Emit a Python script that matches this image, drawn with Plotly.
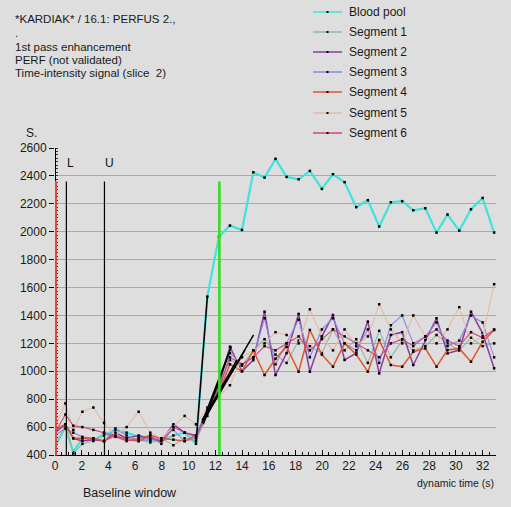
import plotly.graph_objects as go

# Acquisition times (s)
t = [0.0, 0.78, 1.37, 2.05, 2.87, 3.67, 4.52, 5.36, 6.26, 7.13, 7.96, 8.86, 9.70,
     10.55, 11.40, 12.27, 13.09, 13.99, 14.84, 15.68, 16.50, 17.33, 18.23, 19.07,
     19.97, 20.80, 21.67, 22.54, 23.41, 24.26, 25.13, 25.98, 26.81, 27.71, 28.55,
     29.37, 30.25, 31.13, 32.00, 32.86]

blood_pool = [460, 600, 420, 520, 510, 540, 580, 560, 530, 500, 500, 540, 560, 480,
              1535, 1965, 2044, 2013, 2426, 2388, 2522, 2393, 2376, 2436, 2307, 2412,
              2355, 2176, 2226, 2037, 2211, 2219, 2154, 2168, 1994, 2123, 2008, 2161,
              2242, 1994]
segment_1 = [470, 610, 410, 480, 500, 560, 540, 520, 510, 490, 520, 470, 520, 500,
             700, 900, 1080, 1040, 1150, 1230, 1120, 1060, 1220, 1180, 1130, 1300,
             1150, 1230, 1060, 1290, 1100, 1220, 1150, 1180, 1260, 1200, 1150, 1240,
             1180, 1200]
segment_2 = [560, 620, 520, 500, 510, 500, 560, 520, 540, 520, 500, 620, 560, 540,
             720, 900, 1176, 1000, 1080, 1427, 973, 1130, 1411, 997, 1250, 1403,
             1081, 1130, 1356, 985, 1260, 1280, 1045, 1224, 1380, 1128, 1152, 1427,
             1272, 1021]
segment_3 = [540, 590, 560, 530, 520, 500, 590, 540, 500, 510, 520, 580, 500, 520,
             680, 850, 1130, 1050, 1100, 1380, 1050, 1200, 1370, 1100, 1300, 1380,
             1200, 1150, 1300, 1060, 1330, 1400, 1200, 1250, 1350, 1180, 1220, 1400,
             1350, 1100]
segment_4 = [580, 620, 520, 520, 520, 500, 540, 510, 500, 540, 520, 510, 500, 540,
             700, 850, 1050, 1000, 1150, 973, 1090, 1176, 997, 1296, 1120, 1033,
             1200, 1120, 997, 1224, 1045, 1033, 1140, 1164, 1033, 1152, 1164, 1068,
             1212, 1296]
segment_5 = [600, 770, 580, 710, 740, 630, 540, 600, 710, 560, 520, 600, 680, 620,
             740, 820, 900, 1100, 1150, 1200, 1280, 1260, 1200, 1444, 1250, 1150,
             1300, 1180, 1250, 1480, 1300, 1200, 1400, 1250, 1200, 1300, 1459, 1200,
             1250, 1624]
segment_6 = [560, 690, 610, 600, 580, 560, 530, 500, 520, 540, 480, 600, 560, 530,
             720, 880, 1100, 1050, 1100, 1180, 1150, 1200, 1250, 1150, 1230, 1300,
             1250, 1200, 1150, 1100, 1200, 1230, 1180, 1250, 1300, 1220, 1180, 1280,
             1240, 1300]

series_names = ["Blood pool", "Segment 1", "Segment 2", "Segment 3",
                "Segment 4", "Segment 5", "Segment 6"]
series_values = [blood_pool, segment_1, segment_2, segment_3,
                 segment_4, segment_5, segment_6]
series_colors = ["#3ee3dc", "#8cb8a8", "#8a3c9e", "#8c84e0",
                 "#e0552a", "#e6b8a6", "#d2467e"]
series_widths = [2.2, 1.1, 1.5, 1.1, 1.5, 1.1, 1.1]

# Upslope fits: (t_start, s_start, t_end, s_end)
upslope_fits = [
    (10.55, 480, 11.40, 1535),
    (11.0, 640, 13.6, 1080),
    (11.1, 620, 13.2, 1180),
    (11.0, 630, 13.0, 1130),
    (11.2, 660, 14.2, 1150),
    (11.3, 680, 14.86, 1260),
    (11.0, 650, 13.9, 1100),
]

# Markers: start, baseline lower/upper limits, contrast arrival
marker_times = [0.0, 0.85, 3.7, 12.3]
marker_colors = ["#e04848", "#000000", "#000000", "#33dd22"]
marker_widths = [2, 1.2, 1.2, 2.6]
marker_labels = ["", "L", "U", ""]
marker_top = 2360

x_range = [0, 33]
y_range = [400, 2600]

FONT = "Liberation Sans, Arial, sans-serif"
BG = "#dedede"
TXT = "#1a1a1a"

W, H = 511, 507
ML, MR, MT, MB = 55, 15, 148, 52
PW, PH = W - ML - MR, H - MT - MB


def px_x(px):
    return (px - ML) / PW


def px_y(py):
    return (H - MB - py) / PH


fig = go.Figure()

# Signal curves
for name, vals, col, lw in zip(series_names, series_values, series_colors, series_widths):
    fig.add_trace(go.Scatter(
        x=t, y=vals, mode="lines+markers", name=name,
        line=dict(color=col, width=lw),
        marker=dict(symbol="square", size=2.5, color="black"),
        showlegend=False,
    ))

# Upslope fit lines in black
for (t0, s0, t1, s1) in upslope_fits:
    fig.add_trace(go.Scatter(
        x=[t0, t1], y=[s0, s1], mode="lines",
        line=dict(color="black", width=1.5), showlegend=False,
    ))

# Left axis line: black above the marker range
fig.add_shape(type="line", xref="x", yref="y", xsizemode="pixel", xanchor=0,
              x0=0.5, x1=0.5, y0=marker_top, y1=y_range[1],
              line=dict(color="black", width=1))

# Vertical markers
for tm, col, lw, lab in zip(marker_times, marker_colors, marker_widths, marker_labels):
    if tm == x_range[0]:
        # keep the start marker inside the plotting area
        fig.add_shape(type="line", xref="x", yref="y", xsizemode="pixel", xanchor=tm,
                      x0=1, x1=1, y0=y_range[0], y1=marker_top,
                      line=dict(color=col, width=lw))
    else:
        fig.add_shape(type="line", xref="x", yref="y", x0=tm, x1=tm,
                      y0=y_range[0], y1=marker_top, line=dict(color=col, width=lw))
    if lab:
        fig.add_annotation(x=tm, y=2490, xref="x", yref="y", text=lab,
                           showarrow=False, xanchor="left", xshift=-1,
                           font=dict(family=FONT, size=12, color="#111"))

# Header text
header_lines = [("*KARDIAK* / 16.1: PERFUS 2.,", 19), (".", 33),
                ("1st pass enhancement", 47), ("PERF (not validated)", 60),
                ("Time-intensity signal (slice  2)", 73)]
for txt, py in header_lines:
    fig.add_annotation(x=px_x(13), y=px_y(py), xref="paper", yref="paper",
                       text=txt, showarrow=False, xanchor="left", yanchor="middle",
                       font=dict(family=FONT, size=11.5, color=TXT))

# Legend
leg_y = [12, 32, 52, 72, 92, 113, 133]
for name, col, py in zip(series_names, series_colors, leg_y):
    fig.add_shape(type="line", xref="paper", yref="paper",
                  x0=px_x(313), x1=px_x(342), y0=px_y(py), y1=px_y(py),
                  line=dict(color=col, width=1.5))
    fig.add_shape(type="rect", xref="paper", yref="paper",
                  x0=px_x(326.5), x1=px_x(328.5), y0=px_y(py + 1), y1=px_y(py - 1),
                  line=dict(width=0), fillcolor="black")
    fig.add_annotation(x=px_x(347), y=px_y(py), xref="paper", yref="paper",
                       text=name, showarrow=False, xanchor="left", yanchor="middle",
                       font=dict(family=FONT, size=12, color=TXT))

# Axis titles
fig.add_annotation(x=px_x(24), y=px_y(133), xref="paper", yref="paper", text="S.",
                   showarrow=False, xanchor="left", yanchor="middle",
                   font=dict(family=FONT, size=12, color=TXT))
fig.add_annotation(x=px_x(496), y=px_y(483), xref="paper", yref="paper",
                   text="dynamic time (s)", showarrow=False, xanchor="right",
                   yanchor="middle", font=dict(family=FONT, size=10.5, color=TXT))
fig.add_annotation(x=px_x(130), y=px_y(493), xref="paper", yref="paper",
                   text="Baseline window", showarrow=False, xanchor="center",
                   yanchor="middle", font=dict(family=FONT, size=12.5, color=TXT))

fig.update_xaxes(
    range=x_range, showgrid=False, zeroline=False,
    showline=True, linecolor="black", linewidth=1,
    tickmode="linear", tick0=0, dtick=2, ticks="inside", ticklen=5,
    tickcolor="black", tickfont=dict(family=FONT, size=12, color=TXT),
    minor=dict(dtick=0.5, ticks="inside", ticklen=3, tickcolor="black"),
)
fig.update_yaxes(
    range=y_range, showgrid=True, gridcolor="#a9a9a9", gridwidth=1, zeroline=False,
    showline=False,
    tickmode="linear", tick0=400, dtick=200, ticks="outside", ticklen=5,
    tickcolor="black", tickfont=dict(family=FONT, size=12, color=TXT),
    minor=dict(dtick=25, ticks="inside", ticklen=3, tickcolor="#333333"),
)

fig.update_layout(
    width=W, height=H, margin=dict(l=ML, r=MR, t=MT, b=MB),
    paper_bgcolor=BG, plot_bgcolor=BG, showlegend=False,
    font=dict(family=FONT),
)

fig.write_html("out.html")
